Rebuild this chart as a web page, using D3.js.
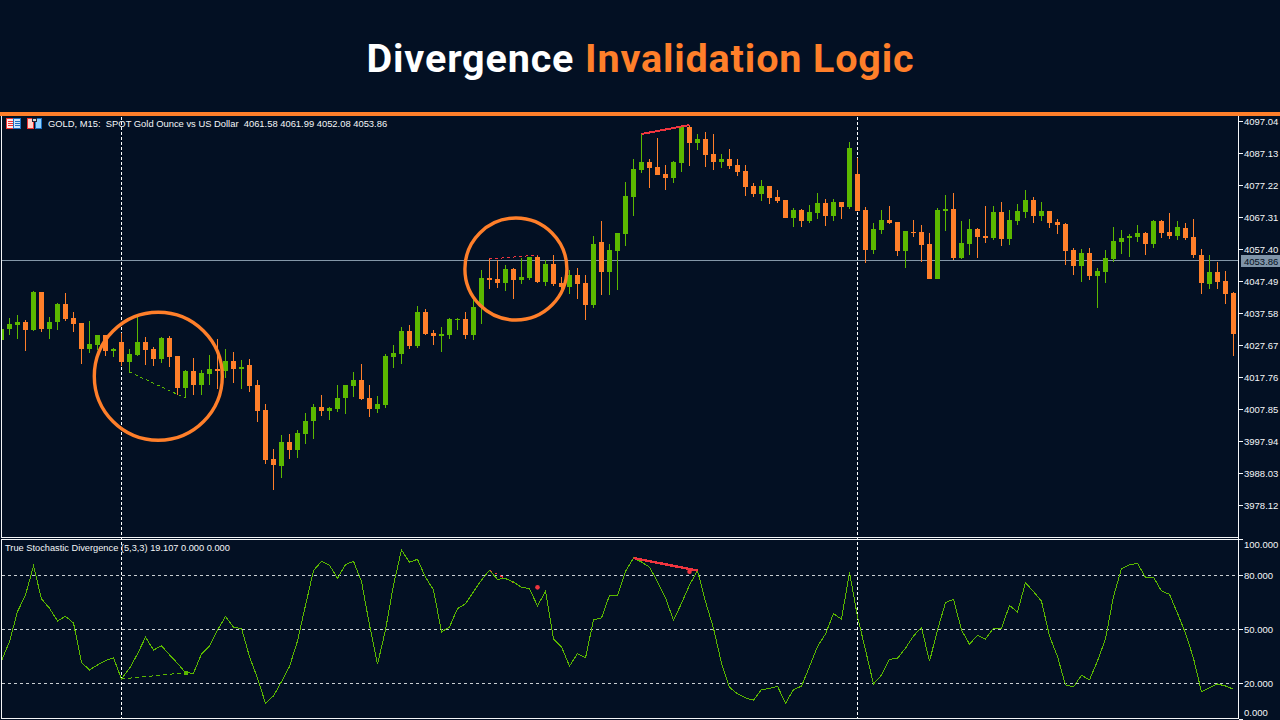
<!DOCTYPE html>
<html>
<head>
<meta charset="utf-8">
<script src="https://cdn.jsdelivr.net/npm/d3@7"></script>
<style>
html,body{margin:0;padding:0;background:#031023;overflow:hidden}
svg{display:block}
text{font-family:"Liberation Sans",sans-serif}
</style>
</head>
<body>
<svg id="c" width="1280" height="720"></svg>
<script>
const titleWhite = "Divergence ";
const titleOrange = "Invalidation Logic";
const headerText = "GOLD, M15:  SPOT Gold Ounce vs US Dollar  4061.58 4061.99 4052.08 4053.86";
const subHeaderText = "True Stochastic Divergence (5,3,3) 19.107 0.000 0.000";
const priceTicks = [4097.04,4087.13,4077.22,4067.31,4057.40,4047.49,4037.58,4027.67,4017.76,4007.85,3997.94,3988.03,3978.12];
const lastPrice = 4053.86;
const stochTicks = [100,80,50,20,0];
const stochLevels = [80,50,20];
const markerBars = [15,107];

const opens = [4029.3,4032.7,4034.0,4034.9,4032.4,4044.2,4032.7,4034.9,4040.5,4036.1,4034.6,4026.5,4027.8,4030.9,4025.9,4028.7,4022.5,4024.6,4028.7,4026.5,
4023.4,4030.0,4024.3,4014.4,4019.7,4015.4,4018.8,4020.3,4019.7,4022.8,4020.3,4021.5,4015.4,4007.6,3992.5,3990.4,3997.8,3995.3,4000.3,4004.3,
4008.5,4007.3,4007.9,4011.3,4015.0,4016.9,4011.3,4007.9,4009.2,4024.0,4024.9,4032.1,4027.5,4038.0,4031.5,4030.6,4030.9,4035.5,4035.8,4030.9,
4039.5,4048.5,4048.2,4046.9,4051.3,4047.9,4048.5,4055.0,4047.2,4052.9,4046.9,4045.7,4049.4,4046.9,4040.2,4059.7,4050.4,4056.9,4062.1,4073.6,
4081.9,4084.4,4082.9,4080.7,4079.5,4084.1,4095.3,4090.3,4091.5,4086.9,4084.4,4085.3,4083.5,4081.6,4077.0,4074.5,4077.0,4073.6,4072.7,4067.1,
4069.6,4066.2,4068.7,4071.8,4067.7,4072.1,4070.5,4080.7,4069.6,4057.2,4063.4,4066.5,4065.9,4056.9,4062.8,4062.8,4059.1,4048.2,4069.3,4069.9,
4054.7,4059.1,4063.7,4061.5,4060.9,4069.0,4060.6,4066.2,4069.0,4072.7,4067.7,4069.3,4065.9,4065.2,4057.2,4052.3,4056.3,4049.1,4050.4,4054.4,
4059.7,4060.9,4061.2,4062.4,4059.1,4066.2,4062.8,4061.5,4064.0,4061.2,4055.6,4046.6,4050.4,4047.6,4043.9];
const highs = [4033.6,4036.1,4037.1,4035.5,4044.5,4044.2,4036.4,4040.8,4043.9,4038.0,4034.6,4035.2,4030.9,4030.9,4026.8,4031.5,4026.5,4036.7,4030.3,4027.1,
4030.3,4030.6,4024.3,4020.0,4023.7,4020.0,4024.6,4029.6,4026.5,4025.6,4023.1,4023.4,4016.9,4009.5,3995.6,4000.0,4000.3,4001.5,4006.7,4009.5,
4012.3,4008.5,4015.4,4015.4,4019.4,4021.9,4015.4,4011.9,4024.9,4027.8,4033.3,4034.0,4039.8,4038.9,4032.4,4033.3,4036.1,4036.1,4038.0,4041.7,
4051.0,4054.4,4054.1,4052.6,4051.6,4054.7,4055.0,4055.6,4054.1,4055.6,4048.8,4051.0,4051.6,4049.4,4061.5,4066.2,4059.1,4062.4,4078.3,4085.3,
4093.1,4085.3,4091.8,4083.5,4084.7,4095.6,4095.9,4093.1,4093.7,4093.1,4086.9,4088.4,4085.3,4083.5,4077.9,4078.9,4077.0,4075.8,4072.7,4070.2,
4069.9,4071.1,4074.9,4073.0,4073.0,4072.1,4090.6,4085.6,4070.5,4065.6,4069.6,4070.8,4065.9,4063.1,4066.5,4064.9,4062.4,4070.2,4074.2,4074.9,
4066.2,4066.8,4064.0,4070.8,4070.8,4072.1,4069.6,4071.5,4075.8,4073.6,4072.1,4069.3,4066.8,4065.6,4057.8,4057.5,4057.8,4051.6,4057.2,4064.3,
4063.4,4062.1,4064.9,4062.8,4066.5,4066.5,4068.6,4066.2,4065.6,4066.8,4057.5,4055.6,4053.5,4050.7,4044.2];
const lows = [4028.7,4030.9,4029.6,4025.9,4032.1,4031.8,4029.6,4032.4,4035.2,4031.8,4021.9,4025.3,4026.2,4024.3,4024.0,4021.2,4019.4,4024.3,4021.5,4021.2,
4022.2,4020.9,4012.3,4011.3,4012.3,4012.3,4015.4,4014.1,4017.5,4016.0,4014.1,4013.2,4004.0,3991.0,3982.9,3986.6,3992.5,3992.8,3997.2,3998.7,
4005.8,4004.6,4007.0,4006.4,4011.6,4010.7,4005.5,4006.7,4008.2,4020.6,4021.9,4026.5,4026.8,4030.9,4027.8,4025.6,4029.6,4032.4,4029.6,4029.3,
4034.3,4045.1,4045.4,4044.5,4042.0,4046.6,4047.9,4046.9,4046.0,4046.0,4043.2,4043.5,4042.0,4035.5,4039.2,4043.2,4043.2,4044.8,4058.4,4067.7,
4081.0,4076.4,4080.4,4075.8,4077.9,4081.3,4083.2,4088.1,4082.9,4081.9,4082.5,4082.2,4080.1,4073.9,4073.6,4072.4,4071.4,4071.8,4067.1,4064.3,
4064.3,4065.6,4066.8,4064.6,4066.2,4066.8,4069.9,4069.3,4053.2,4055.9,4062.2,4065.3,4055.3,4051.6,4061.2,4053.5,4048.2,4048.2,4063.1,4054.1,
4054.4,4055.6,4054.7,4059.4,4060.3,4058.4,4058.7,4064.9,4067.1,4065.6,4066.2,4064.0,4062.1,4052.6,4049.4,4047.3,4047.9,4039.2,4046.9,4053.5,
4056.0,4055.0,4059.7,4055.6,4057.8,4060.9,4060.6,4060.3,4060.3,4054.7,4043.5,4045.1,4045.1,4040.5,4024.3];
const closes = [4032.7,4034.3,4034.9,4032.4,4044.2,4032.7,4034.9,4040.5,4035.8,4034.3,4026.5,4028.1,4030.9,4025.9,4026.5,4022.5,4024.9,4028.7,4026.2,4023.4,
4030.0,4024.0,4014.4,4019.7,4015.4,4019.1,4020.3,4019.7,4022.8,4020.3,4020.9,4015.0,4007.3,3992.2,3990.7,3997.8,3995.3,4000.6,4004.3,4008.5,
4007.3,4008.2,4011.3,4015.4,4016.9,4011.0,4007.9,4009.5,4024.3,4025.3,4032.1,4027.5,4038.0,4031.2,4030.6,4031.2,4035.8,4035.8,4030.9,4039.5,
4048.5,4047.9,4046.9,4051.3,4047.9,4048.8,4055.0,4047.2,4052.9,4046.6,4045.7,4049.4,4046.6,4040.2,4059.1,4050.4,4057.2,4062.4,4073.9,4082.2,
4084.4,4082.5,4080.4,4079.5,4084.4,4095.3,4090.3,4091.5,4086.6,4084.4,4085.3,4083.2,4081.3,4076.7,4074.5,4077.0,4073.3,4072.4,4067.1,4069.6,
4066.2,4069.0,4071.8,4067.7,4072.1,4070.5,4088.7,4069.3,4057.2,4063.7,4066.5,4065.6,4056.9,4063.1,4062.4,4058.7,4048.2,4069.6,4069.9,4054.7,
4059.4,4063.7,4061.2,4060.9,4069.0,4060.6,4066.5,4069.3,4072.7,4067.7,4069.3,4065.6,4064.9,4056.9,4052.3,4056.3,4049.1,4050.7,4054.7,4060.0,
4060.9,4061.5,4062.4,4059.1,4066.2,4062.4,4061.5,4064.3,4060.9,4055.6,4047.0,4050.4,4047.3,4043.5,4031.2];
const stoch = [32.6,43.2,59.8,69.1,85.2,66.9,61.7,54.6,57.2,53.5,31.6,27.4,30.2,32.6,34.1,22.4,28.3,36.3,45.6,38.5,
40.8,35.8,31.1,25.9,25.6,36.3,40.8,49.6,57.1,51.1,50.4,34.8,22.8,8.9,13.0,20.9,29.3,43.5,63.3,82.6,
87.8,85.6,78.3,85.9,87.8,76.5,52.4,30.6,49.6,74.6,94.1,87.2,88.9,78.9,71.9,48.5,51.3,61.5,64.1,70.9,
77.4,82.8,77.8,78.2,76.3,73.3,72.6,63.0,71.1,44.6,40.2,29.6,36.5,34.1,55.2,56.3,68.9,68.9,82.1,89.6,
87.4,84.5,76.5,67.6,55.0,64.5,74.6,82.6,65.4,50.6,31.1,17.8,14.1,11.9,10.6,16.5,17.1,18.4,8.9,16.5,
18.4,29.3,40.4,47.4,58.7,55.6,81.7,57.0,38.5,19.6,24.6,33.3,33.9,39.5,46.3,51.0,32.2,49.6,64.8,66.7,
49.6,41.7,46.7,44.6,50.6,50.6,63.3,59.6,75.9,70.9,65.6,46.3,34.8,19.1,18.0,24.5,21.9,32.4,44.6,68.2,
83.7,85.8,86.7,78.9,78.9,71.3,69.4,58.9,47.8,33.9,15.2,17.6,19.6,18.5,16.7];
// divergence annotations as [bar, value]
const priceDivBull = [[16,lows[16]],[23,lows[23]]];
const priceDivBearDash = [[61,highs[61]],[67,highs[67]]];
const priceDivBear = [[80,highs[80]],[86,highs[86]]];
const stochDivBull = [[15,22.4],[23,25.9]];
const stochDivBearDash = [[61,82.8],[65,73.5]];
const stochDivBear = [[79,89.6],[87,82.6]];
const stochDots = [[67,73.3],[86,82.0]];
const stochBullMark = [[23,25.9]];
// highlighted circles [bar-position centre, price-position centre]
const highlight = [[19.6,4018.1,64],[64.3,4051.3,51]];

const BG="#031023", GREEN="#5bb800", ORANGE="#ff7f2a", RED="#f0353f", WHITE="#f4f6f8", GREY="#8497a8";
const svg=d3.select("#c");
svg.append("rect").attr("width",1280).attr("height",720).attr("fill",BG);

// title
const t=svg.append("text").attr("x",640.5).attr("y",72).attr("text-anchor","middle")
 .style("font-family","Roboto,sans-serif").style("font-weight",700).style("font-size","39.5px").style("letter-spacing","0.85px");
t.append("tspan").attr("fill","#ffffff").attr("xml:space","preserve").text(titleWhite);
t.append("tspan").attr("fill",ORANGE).text(titleOrange);

// scales
const x=d3.scaleLinear().domain([0,154]).range([1.5,1233.5]);
const y=d3.scaleLinear().domain([3978.12,4097.04]).range([505.3,121.3]);
const ys=d3.scaleLinear().domain([0,100]).range([719.3,539.3]);

const defs=svg.append("defs");
defs.append("clipPath").attr("id","mainclip").append("rect").attr("x",2).attr("y",116).attr("width",1236).attr("height",421);
defs.append("clipPath").attr("id","subclip").append("rect").attr("x",2).attr("y",541).attr("width",1236).attr("height",177);

// last-price line
svg.append("line").attr("x1",2).attr("x2",1238).attr("y1",Math.floor(y(lastPrice))+.5).attr("y2",Math.floor(y(lastPrice))+.5)
 .attr("stroke",GREY).attr("stroke-width",1).attr("shape-rendering","crispEdges");

// stoch levels
svg.append("g").attr("shape-rendering","crispEdges").selectAll("line").data(stochLevels).join("line")
 .attr("x1",2).attr("x2",1238).attr("y1",d=>ys(d)).attr("y2",d=>ys(d))
 .attr("stroke","#c9ced2").attr("stroke-dasharray","3 3");

// vertical markers sit behind the candles
svg.append("g").attr("shape-rendering","crispEdges").selectAll("line").data(markerBars).join("line")
 .attr("x1",d=>x(d)).attr("x2",d=>x(d)).attr("y1",117).attr("y2",718)
 .attr("stroke","#ffffff").attr("stroke-dasharray","3 2");

// candles
const main=svg.append("g").attr("clip-path","url(#mainclip)").attr("shape-rendering","crispEdges");
const idx=d3.range(opens.length);
main.selectAll("rect.w").data(idx).join("rect").attr("class","w")
 .attr("x",i=>x(i)-.5).attr("width",1).attr("y",i=>y(highs[i])).attr("height",i=>y(lows[i])-y(highs[i]))
 .attr("fill",i=>closes[i]>=opens[i]?GREEN:ORANGE);
main.selectAll("rect.b").data(idx).join("rect").attr("class","b")
 .attr("x",i=>x(i)-2.5).attr("width",5)
 .attr("y",i=>y(Math.max(opens[i],closes[i])))
 .attr("height",i=>Math.max(1,Math.abs(y(opens[i])-y(closes[i]))))
 .attr("fill",i=>closes[i]>=opens[i]?GREEN:ORANGE);

// price divergence lines
const mainLine=d3.line().x(d=>x(d[0])).y(d=>y(d[1]));
const ann=svg.append("g").attr("clip-path","url(#mainclip)").attr("fill","none").attr("shape-rendering","crispEdges");
ann.append("path").attr("d",mainLine(priceDivBull)).attr("stroke",GREEN).attr("stroke-width",1).attr("stroke-dasharray","3 3");
ann.append("path").attr("d",mainLine(priceDivBearDash)).attr("stroke",RED).attr("stroke-width",1).attr("stroke-dasharray","3 3");
ann.append("path").attr("d",mainLine(priceDivBear)).attr("stroke",RED).attr("stroke-width",2);

// circles
svg.append("g").selectAll("circle").data(highlight).join("circle")
 .attr("cx",d=>x(d[0])).attr("cy",d=>y(d[1])).attr("r",d=>d[2])
 .attr("fill","none").attr("stroke",ORANGE).attr("stroke-width",3.4);

// stochastic
const sub=svg.append("g").attr("clip-path","url(#subclip)").attr("fill","none").attr("shape-rendering","crispEdges");
const subLine=d3.line().x(d=>x(d[0])).y(d=>ys(d[1]));
sub.append("path").attr("d",subLine(stochDivBearDash)).attr("stroke",RED).attr("stroke-width",1).attr("stroke-dasharray","3 3");
sub.append("path").attr("d",subLine(stoch.map((v,i)=>[i,v]))).attr("stroke",GREEN).attr("stroke-width",1);
sub.append("path").attr("d",subLine(stochDivBull)).attr("stroke",GREEN).attr("stroke-width",1).attr("stroke-dasharray","4 3");
sub.append("path").attr("d",subLine(stochDivBear)).attr("stroke",RED).attr("stroke-width",2.4);
sub.selectAll("circle.r").data(stochDots).join("circle").attr("class","r")
 .attr("cx",d=>x(d[0])).attr("cy",d=>ys(d[1])).attr("r",2.3).attr("fill",RED).attr("shape-rendering","auto");
sub.selectAll("rect.g").data(stochBullMark).join("rect").attr("class","g")
 .attr("x",d=>x(d[0])-2).attr("y",d=>ys(d[1])-2).attr("width",4).attr("height",4).attr("fill",GREEN);

// frames
const fr=svg.append("g").attr("fill","none").attr("stroke",WHITE).attr("shape-rendering","crispEdges");
fr.append("path").attr("d","M1.5,116V537.5H1238.5");
fr.append("path").attr("d","M1.5,718.5V539.5H1238.5");
fr.append("path").attr("d","M1238.5,116V718.5H1.5");

// axes
const axMain=d3.axisRight(y).tickValues(priceTicks).tickFormat(d3.format(".2f")).tickSize(4).tickPadding(1);
const gMain=svg.append("g").attr("transform","translate(1239,0)").call(axMain);
const axSub=d3.axisRight(ys).tickValues(stochTicks).tickFormat(d3.format(".3f")).tickSize(4).tickPadding(1);
const gSub=svg.append("g").attr("transform","translate(1239,0)").call(axSub);
[gMain,gSub].forEach(g=>{
  g.select(".domain").remove();
  g.selectAll("line").attr("stroke",WHITE).attr("shape-rendering","crispEdges");
  g.selectAll("text").attr("fill",WHITE).style("font-family","'Liberation Sans',sans-serif").style("font-size","9.5px");
});
gSub.selectAll(".tick text").attr("dy",d=>d===100?".85em":d===0?"-.35em":".32em");
gMain.selectAll(".tick text").attr("dy",".32em");

// last price tag
const ty=Math.floor(y(lastPrice))+.5;
svg.append("rect").attr("x",1241).attr("y",ty-5.5).attr("width",39).attr("height",12).attr("fill","#7f94a8").attr("shape-rendering","crispEdges");
svg.append("text").attr("x",1244).attr("y",ty+4).attr("fill","#031022").style("font-size","9.5px").text(d3.format(".2f")(lastPrice));

// header
svg.append("text").attr("x",48).attr("y",127).attr("fill",WHITE).attr("xml:space","preserve").style("font-size","9.4px").text(headerText);
svg.append("text").attr("x",5).attr("y",551).attr("fill",WHITE).style("font-size","9.25px").text(subHeaderText);

// small toolbar icons
const ic=svg.append("g").attr("shape-rendering","crispEdges");
ic.append("rect").attr("x",6.5).attr("y",118.5).attr("width",7).attr("height",10).attr("fill","#ffe9e6").attr("stroke","#ee3333");
ic.append("rect").attr("x",13.5).attr("y",118.5).attr("width",7).attr("height",10).attr("fill","#cfe6fb").attr("stroke","#1c6fc0");
[121,123,125].forEach(v=>{
 ic.append("rect").attr("x",8).attr("y",v).attr("width",5).attr("height",1).attr("fill","#ee3333");
 ic.append("rect").attr("x",15).attr("y",v).attr("width",5).attr("height",1).attr("fill","#1c6fc0");
});
ic.append("rect").attr("x",27.5).attr("y",118.5).attr("width",6).attr("height",10).attr("fill","#ffd0c8").attr("stroke","#ee3333");
ic.append("rect").attr("x",35.5).attr("y",118.5).attr("width",6).attr("height",10).attr("fill","#8fd0ff").attr("stroke","#1c6fc0");
ic.append("rect").attr("x",32.5).attr("y",118.5).attr("width",4).attr("height",3).attr("fill","#d8d8d8").attr("stroke","#223");

// top bar
svg.append("rect").attr("x",0).attr("y",112).attr("width",1280).attr("height",4).attr("fill",ORANGE).attr("shape-rendering","crispEdges");
</script>
</body>
</html>
